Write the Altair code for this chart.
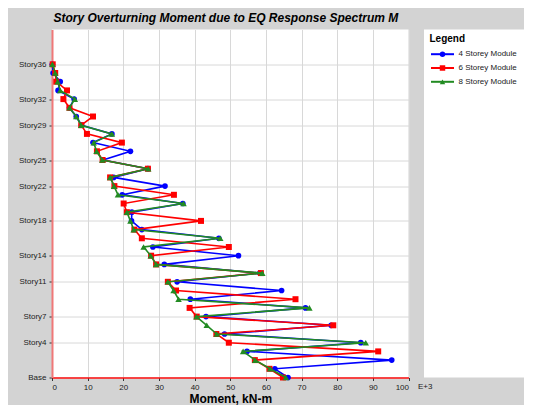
import altair as alt
import pandas as pd

# ---------------- data ----------------
levels = list(range(37))
series_names = ["4 Storey Module", "6 Storey Module", "8 Storey Module"]
m4 = [66.2, 62.5, 95.3, 54.7, 86.6, 48.4, 78.3, 43.2, 71.1, 38.8, 64.4, 35.1, 58.3,
      31.5, 52.3, 28.3, 46.8, 25.2, 22.3, 22.4, 36.7, 19.7, 31.7, 17.3, 26.9, 14.3,
      22.0, 11.5, 16.8, 8.3, 6.8, 4.9, 6.2, 1.7, 2.3, 0.3, 0.1]
m6 = [64.8, 61.0, 56.9, 91.5, 49.6, 46.1, 78.9, 40.6, 38.6, 68.3, 34.8, 32.5, 58.6,
      29.2, 27.8, 49.6, 25.2, 23.1, 41.8, 21.0, 20.1, 34.2, 17.5, 16.3, 26.9, 14.2,
      12.6, 19.6, 9.8, 8.2, 11.5, 4.9, 3.2, 4.2, 1.2, 0.9, 0.2]
m8 = [65.6, 61.2, 57.0, 53.6, 88.0, 46.2, 43.4, 40.5, 72.2, 35.5, 34.1, 32.5, 59.0,
      29.2, 27.7, 25.7, 47.2, 22.9, 22.0, 21.0, 36.9, 18.5, 17.4, 16.3, 27.0, 14.1,
      12.5, 11.7, 16.8, 8.2, 6.8, 4.9, 6.4, 2.3, 1.6, 0.9, 0.1]
story_ticks = [0, 4, 7, 11, 14, 18, 22, 25, 29, 32, 36]
x_ticks = list(range(0, 101, 10))

colors = ["#0000FF", "#FF0000", "#228B22"]
shapes = ["circle", "square", "triangle-up"]
sizes = [32, 36, 42]

FONT = "Liberation Sans"
W, H = 356.5, 348

rows = []
for name, vals in zip(series_names, [m4, m6, m8]):
    for lv, v in zip(levels, vals):
        rows.append({"series": name, "level": lv, "moment": v})
df = pd.DataFrame(rows)

x_enc = alt.X("moment:Q", scale=alt.Scale(domain=[0, 100], nice=False),
              axis=alt.Axis(values=x_ticks, title="Moment, kN-m", grid=True,
                            domainColor="#FF1010", domainWidth=1.5,
                            tickSize=3, labelPadding=2.5, titlePadding=2,
                            titleFontSize=12, titleFontWeight="bold"))
y_enc = alt.Y("level:Q", scale=alt.Scale(domain=[0, 40], nice=False),
              axis=alt.Axis(values=story_ticks, title=None, grid=True,
                            labelExpr="datum.value == 0 ? 'Base' : 'Story' + datum.value",
                            domainColor="#F07878", domainWidth=2,
                            tickSize=3, labelPadding=3))

layers = []
for name, c, shp, sz in zip(series_names, colors, shapes, sizes):
    base = alt.Chart(df).transform_filter(alt.datum.series == name)
    layers.append(base.mark_line(color=c, strokeWidth=1.6).encode(
        x=x_enc, y=y_enc, order=alt.Order("level:Q")))
    layers.append(base.mark_point(shape=shp, filled=True, color=c, size=sz, opacity=1).encode(
        x=x_enc, y=y_enc))

e3 = alt.Chart(pd.DataFrame({"moment": [100]})).mark_text(
    text="E+3", align="left", baseline="top", fontSize=8, font=FONT, dx=9.5, color="#222"
).encode(x=x_enc, y=alt.value(H + 5.5))
layers.append(e3)

main = alt.layer(*layers).properties(
    width=W, height=H,
    title=alt.Title("Story Overturning Moment due to EQ Response Spectrum M",
                    anchor="start", frame="group", dx=1.5, offset=4.5),
)

# ---------------- legend panel ----------------
leg_df = pd.DataFrame({"name": series_names})
ypos = alt.Y("name:N", scale=alt.Scale(type="point", domain=series_names,
                                       range=[24.7, 52.3], padding=0), axis=None)
col = alt.Color("name:N", scale=alt.Scale(domain=series_names, range=colors), legend=None)
shp = alt.Shape("name:N", scale=alt.Scale(domain=series_names, range=shapes), legend=None)

leg_rule = alt.Chart(leg_df).mark_rule(strokeWidth=2).encode(
    x=alt.value(7), x2=alt.value(30), y=ypos, color=col)
leg_pt = alt.Chart(leg_df).mark_point(filled=True, size=30, opacity=1).encode(
    x=alt.value(18.5), y=ypos, color=col, shape=shp)
leg_txt = alt.Chart(leg_df).mark_text(align="left", baseline="middle", fontSize=8,
                                      font=FONT, color="#222").encode(
    x=alt.value(34.5), y=ypos, text="name:N")
leg_title = alt.Chart(pd.DataFrame({"t": ["Legend"]})).mark_text(
    align="left", baseline="middle", fontSize=10, fontWeight="bold", font=FONT, color="#000"
).encode(x=alt.value(5.5), y=alt.value(9.5), text="t:N")

legend_panel = alt.layer(leg_rule, leg_pt, leg_txt, leg_title).properties(width=100, height=H)

chart = alt.hconcat(main, legend_panel, spacing=15, bounds="flush").properties(
    background="#D3D3D3",
    padding={"left": 10, "top": 3.5, "right": 0, "bottom": 0},
).configure_view(fill="white", strokeWidth=0).configure_axis(
    labelFont=FONT, labelFontSize=8, labelColor="#222", titleFont=FONT,
    titleColor="#000", gridColor="#D8D8D8", gridWidth=1, tickColor="#333",
).configure_title(font=FONT, fontSize=12, fontWeight="bold", fontStyle="italic", color="#000")

chart.save("out.html", embed_options={"renderer": "svg", "actions": False})
